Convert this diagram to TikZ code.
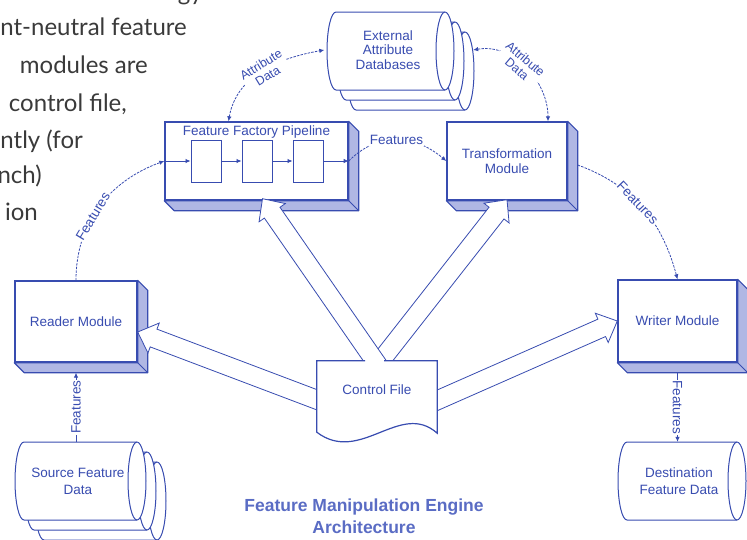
\documentclass[tikz,border=0pt]{standalone}
\usepackage{fontspec}
\setmainfont{Liberation Sans}
\newfontfamily\pagefont{Lato}
\usetikzlibrary{shapes.geometric,arrows.meta,calc,positioning}

\definecolor{fmeblue}{RGB}{56,76,176}
\definecolor{fmeshade}{RGB}{176,183,228}
\definecolor{fmetitle}{RGB}{90,108,196}
\definecolor{pagegray}{RGB}{58,58,58}

% shaded side and bottom of a module box
\newcommand{\extrude}[1]{%
  \filldraw[fill=fmeshade,draw=fmeblue,line width=1.2pt,line join=round]
    (#1.north east) -- ++(10,-10) -- ([shift={(10,-10)}]#1.south east)
    -- ([shift={(10,-10)}]#1.south west) -- (#1.south west)
    -- (#1.south east) -- cycle;
  \draw[fmeblue,line width=1pt] (#1.south east) -- ++(10,-10);
}

% lying drum (data store) around a centre, #2 = half length of the body
\newcommand{\drum}[2]{%
  \filldraw[drumline] ($(#1)+(-#2,39)$) -- ($(#1)+(#2,39)$)
    arc[start angle=90,end angle=-90,x radius=9,y radius=39]
    -- ($(#1)+(-#2,-39)$)
    arc[start angle=270,end angle=90,x radius=9,y radius=39] -- cycle;
  \draw[drumline] ($(#1)+(#2,39)$) arc[start angle=90,end angle=270,x radius=9,y radius=39];
}

% wide open arrow coming out of the control file
\newcommand{\widearrow}[2]{%
  \coordinate (wa tail) at (#1);
  \coordinate (wa tip) at (#2);
  \coordinate (wa neck) at ($(wa tip)!17pt!(wa tail)$);
  \filldraw[bigarrow]
    ($(wa tail)!9.5pt!90:(wa tip)$) -- ($(wa neck)!9.5pt!90:(wa tip)$)
    -- ($(wa neck)!16pt!90:(wa tip)$) -- (wa tip)
    -- ($(wa neck)!16pt!-90:(wa tip)$) -- ($(wa neck)!9.5pt!-90:(wa tip)$)
    -- ($(wa tail)!9.5pt!-90:(wa tip)$);
}

\begin{document}
\begin{tikzpicture}[
    x=1pt, y=1pt,
    >={Latex[length=5pt,width=4.5pt]},
    every node/.style={font=\fontsize{13.5}{15}\selectfont, text=fmeblue},
    module/.style={rectangle, draw=fmeblue, line width=1.4pt, fill=white, align=center},
    stage/.style={rectangle, draw=fmeblue, line width=1pt, fill=white, minimum width=30pt, minimum height=42pt},
    drumline/.style={draw=fmeblue, line width=1pt, fill=white},
    store/.style={rectangle, minimum height=78pt, align=center, inner sep=0pt,
      font=\fontsize{13.5}{17}\selectfont},
    flow/.style={draw=fmeblue, line width=0.8pt, dash pattern=on 2.5pt off 1.2pt},
    feed/.style={draw=fmeblue, line width=0.8pt},
    tag/.style={fill=white, inner sep=1pt},
    bigarrow/.style={draw=fmeblue, fill=white, line width=0.8pt, line join=miter},
    pagetext/.style={font=\pagefont\fontsize{24}{28}\selectfont, text=pagegray, anchor=base east, inner sep=0pt}
  ]
  \useasboundingbox (0,0) rectangle (747,-539);
  \clip (0,0) rectangle (747,-539);

  % page text running past the left margin
  \node[pagetext] (p0) at (203,0) {gy};
  \node[pagetext] (p1) at (187,-35) {nt-neutral feature};
  \node[pagetext] (p2) at (148,-73) {modules are};
  \node[pagetext] (p3) at (127,-111) {control file,};
  \node[pagetext] (p4) at (83,-148) {ntly (for};
  \node[pagetext] (p5) at (42,-183) {nch)};
  \node[pagetext] (p6) at (38,-220) {ion};

  % data stores
  \drum{410.5,-71}{54.5}
  \node[store, minimum width=109pt] (db3) at (410.5,-71) {};
  \drum{400.5,-61}{54.5}
  \node[store, minimum width=109pt] (db2) at (400.5,-61) {};
  \drum{390.5,-51}{54.5}
  \node[store, minimum width=109pt, font=\fontsize{13.5}{14.5}\selectfont] (db) at (388,-50)
    {External\\Attribute\\Databases};
  \drum{100.5,-501}{56.5}
  \drum{90.5,-491}{56.5}
  \drum{80.5,-481}{56.5}
  \node[store, minimum width=113pt] (source) at (78,-481) {Source Feature\\Data};
  \drum{682,-481}{55}
  \node[store, minimum width=110pt] (dest) at (679,-481) {Destination\\Feature Data};

  % modules
  \node[module, minimum width=122pt, minimum height=81pt] (reader) at (76,-321.5) {Reader Module};
  \extrude{reader}
  \node[module, minimum width=183pt, minimum height=78pt] (pipe) at (256.5,-161) {};
  \extrude{pipe}
  \node[anchor=north] (pipetitle) at ([yshift=-1pt]pipe.north) {Feature Factory Pipeline};
  \node[stage] (s1) at (206,-161) {};
  \node[stage, right=20pt of s1] (s2) {};
  \node[stage, right=20pt of s2] (s3) {};
  \node[module, minimum width=120pt, minimum height=78pt] (trans) at (507,-161) {Transformation\\Module};
  \extrude{trans}
  \node[module, minimum width=119pt, minimum height=82pt] (writer) at (677.5,-321) {Writer Module};
  \extrude{writer}
  \node[minimum width=120pt, minimum height=72pt] (ctl) at (377,-397) {};

  % features through the pipeline
  \draw[feed,->] (pipe.west) -- (s1);
  \draw[feed,->] (s1) -- (s2);
  \draw[feed,->] (s2) -- (s3);
  \draw[feed,->] (s3) -- (pipe.east);

  \draw[flow,->] (reader.north) to[out=90,in=200]
    node[tag, sloped, pos=0.42] (ftag1) {Features} (pipe.west);
  \draw[flow,->] (pipe.east) to[out=45,in=140,looseness=1.1]
    node[tag] (ftag2) {Features} (trans.west);
  \draw[flow,->] ([xshift=10pt,yshift=-4pt]trans.east) to[out=-20,in=105]
    node[tag, sloped, pos=0.45] (ftag3) {Features} (writer.north);
  \draw[feed,->] (source.north -| reader.south) --
    node[tag, rotate=90] (ftag4) {Features} ([yshift=-10pt]reader.south);
  \draw[feed,->] ([yshift=-10pt]writer.south) --
    node[tag, rotate=-90] (ftag5) {Features} (writer.south |- dest.north);

  % attribute lookups
  \draw[flow,<->] ([xshift=-28pt]pipe.north) to[out=80,in=190]
    node[tag, sloped, align=center, pos=0.52, font=\fontsize{12.5}{13}\selectfont] (atag1) {Attribute\\Data}
    ([xshift=-9pt]db.west);
  \draw[flow,<->] ([xshift=8pt,yshift=21pt]db3.east) to[out=10,in=90]
    node[tag, sloped, align=center, pos=0.45, font=\fontsize{12.5}{13}\selectfont] (atag2) {Attribute\\Data}
    ([xshift=41pt]trans.north);

  % control file drives every module
  \widearrow{[xshift=6pt,yshift=-5pt]ctl.west}{[yshift=-10.5pt]reader.east}
  \widearrow{[xshift=-6pt,yshift=-6pt]ctl.east}{writer.west}
  \widearrow{[xshift=-1pt,yshift=-6pt]ctl.north}{[yshift=1pt]trans.south}
  \widearrow{[xshift=2pt,yshift=-6pt]ctl.north}{[xshift=6pt,yshift=2pt]pipe.south}

  \fill[white] (ctl.north west) -- (ctl.north east) -- (ctl.south east)
    .. controls ([shift={(-37,33)}]ctl.south east) and ([shift={(-77,-32)}]ctl.south east)
    .. ([yshift=1pt]ctl.south west) -- cycle;
  \draw[fmeblue, line width=1.2pt] ([xshift=7pt]ctl.north) -- (ctl.north east) -- (ctl.south east)
    .. controls ([shift={(-37,33)}]ctl.south east) and ([shift={(-77,-32)}]ctl.south east)
    .. ([yshift=1pt]ctl.south west) -- (ctl.north west) -- ([xshift=-12pt]ctl.north);
  \node (ctllabel) at ([yshift=7pt]ctl.center) {Control File};

  \node[align=center, text=fmetitle, font=\bfseries\fontsize{17.5}{22}\selectfont] (title) at (364,-516)
    {Feature Manipulation Engine\\Architecture};
\end{tikzpicture}
\end{document}
